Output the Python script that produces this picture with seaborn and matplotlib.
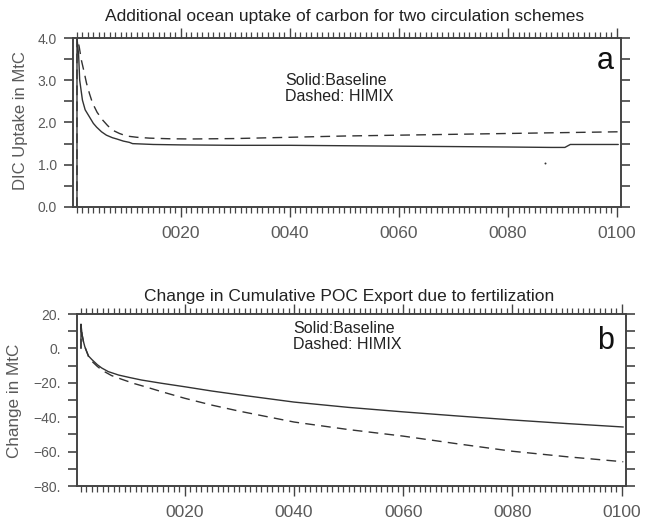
import matplotlib
matplotlib.use("Agg")
import matplotlib.pyplot as plt
import matplotlib.ticker as mticker
import seaborn as sns
import pandas as pd

# ---------------- data ----------------
# Panel a: DIC uptake (MtC)
t_base_a = [1.0, 1.0, 1.3, 1.5, 2.0, 2.5, 3.3, 4.0, 4.6, 5.5, 6.4, 7.5, 8.3, 9.5,
            10.6, 11.2, 15, 20, 30, 40, 50, 60, 70, 80, 88, 90.5, 91.5, 100.3]
v_base_a = [0.0, 4.0, 3.6, 3.0, 2.53, 2.3, 2.13, 1.98, 1.89, 1.78, 1.70, 1.64, 1.61, 1.56,
            1.53, 1.50, 1.48, 1.47, 1.46, 1.46, 1.45, 1.44, 1.43, 1.42, 1.41, 1.41, 1.48, 1.48]
t_himix_a = [1.0, 1.0, 1.4, 1.8, 2.3, 2.75, 3.3, 3.85, 4.7, 5.7, 6.6, 7.5, 8.8, 10.1,
             12, 14.3, 18, 22, 26, 30, 40, 50, 60, 70, 80, 90, 100.3]
v_himix_a = [0.0, 4.0, 3.8, 3.48, 3.2, 2.93, 2.68, 2.46, 2.24, 2.06, 1.93, 1.82, 1.74, 1.68,
             1.65, 1.63, 1.615, 1.61, 1.615, 1.62, 1.65, 1.68, 1.70, 1.72, 1.74, 1.76, 1.78]
dot_t_a = [86.8]
dot_v_a = [1.04]

# Panel b: change in cumulative POC export (MtC)
t_base_b = [1.0, 1.0, 1.2, 1.45, 1.7, 2.0, 2.4, 3.0, 4.0, 4.8, 6.0, 7.9, 10, 12.1,
            15.8, 20, 25, 30, 40, 50, 60, 70, 80, 90, 100.3]
v_base_b = [0, 14, 8, 4, 1, -1.5, -4.5, -6.5, -9.5, -11.4, -13.5, -15.5, -17, -18.4,
            -20.3, -22.3, -24.8, -27, -31.2, -34.3, -36.9, -39.3, -41.6, -43.7, -45.7]
t_himix_b = [1.0, 1.0, 1.2, 1.45, 1.7, 2.0, 2.4, 3.0, 4.0, 5.0, 6.6, 8.5, 10.8, 13,
             15.8, 20, 25, 30, 40, 50, 60, 70, 80, 90, 100.3]
v_himix_b = [0, 14, 8, 4, 1, -1.5, -5, -7.5, -10.5, -13, -15.8, -18, -20.5, -22.5,
             -25.2, -29, -33, -36.5, -42.8, -47.2, -51, -55.5, -59.8, -63, -65.9]

xticks = [20, 40, 60, 80, 100]
xticklabels = ["0020", "0040", "0060", "0080", "0100"]
yticks_a = [0.0, 1.0, 2.0, 3.0, 4.0]
yticklabels_a = ["0.0", "1.0", "2.0", "3.0", "4.0"]
yticks_b = [-80, -60, -40, -20, 0, 20]
yticklabels_b = ["\u221280.", "\u221260.", "\u221240.", "\u221220.", "0.", "20."]

title_a = "Additional ocean uptake of carbon for two circulation schemes"
title_b = "Change in Cumulative POC Export due to fertilization"
ylabel_a = "DIC Uptake in MtC"
ylabel_b = "Change in MtC"
legend_text = "Solid:Baseline\nDashed: HIMIX"

# ---------------- style ----------------
sns.set_style("white")
plt.rcParams["font.family"] = ["Liberation Sans", "DejaVu Sans"]

W, H = 647, 520
fig = plt.figure(figsize=(W / 100, H / 100), dpi=100)

def px_axes(l, t, r, b):
    return fig.add_axes([l / W, 1 - b / H, (r - l) / W, (b - t) / H])

ax_a = px_axes(73, 38, 621, 207)
ax_b = px_axes(77, 314, 626, 486)

LC = "#333333"
SC = "#444444"
TC = "#5a5a5a"

def draw(ax, tb, vb, th, vh):
    dfb = pd.DataFrame({"t": tb, "v": vb})
    dfh = pd.DataFrame({"t": th, "v": vh})
    sns.lineplot(data=dfb, x="t", y="v", ax=ax, color=LC, lw=1.0,
                 estimator=None, sort=False)
    sns.lineplot(data=dfh, x="t", y="v", ax=ax, color=LC, lw=1.0,
                 estimator=None, sort=False, linestyle=(0, (7, 4.5)))

draw(ax_a, t_base_a, v_base_a, t_himix_a, v_himix_a)
sns.scatterplot(x=dot_t_a, y=dot_v_a, ax=ax_a, s=2, color=LC, linewidth=0)
draw(ax_b, t_base_b, v_base_b, t_himix_b, v_himix_b)

def style(ax, ylim, yticks, yticklabels, legend_xy):
    ax.set_xlim(0.27, 100.8)
    ax.set_ylim(*ylim)
    for s in ax.spines.values():
        s.set_visible(True)
        s.set_color(SC)
        s.set_linewidth(1.4)
    ax.set_xticks(xticks)
    ax.set_xticklabels(xticklabels, fontsize=12.5, color=TC)
    ax.xaxis.set_minor_locator(mticker.MultipleLocator(1))
    ax.set_yticks(yticks)
    ax.set_yticklabels(yticklabels, fontsize=10, color=TC)
    step = yticks[1] - yticks[0]
    ax.yaxis.set_minor_locator(mticker.MultipleLocator(step / 2))
    ax.tick_params(axis="x", which="major", direction="out", length=7.5, width=1.0,
                   color=SC, top=True, bottom=True, pad=6)
    ax.tick_params(axis="x", which="minor", direction="out", length=4, width=0.9,
                   color=SC, top=True, bottom=True)
    ax.tick_params(axis="y", which="both", direction="out", length=6.5, width=1.2,
                   color=SC, left=True, right=True, pad=5)
    ax.set_xlabel("")
    ax.set_ylabel("")
    ax.text(legend_xy[0], legend_xy[1], legend_text, transform=ax.transAxes,
            fontsize=11.5, color="#222222", va="top", ha="left", linespacing=1.1)

style(ax_a, (0.0, 4.0), yticks_a, yticklabels_a,
      ((285 - 73) / 548, 1 - (73 - 38) / 169))
style(ax_b, (-80, 20), yticks_b, yticklabels_b,
      ((293 - 77) / 549, 1 - (321 - 314) / 172))

# titles
fig.text(345 / W, 1 - 17 / H, title_a, ha="center", va="center", fontsize=12.5, color="#222222")
fig.text(349 / W, 1 - 296 / H, title_b, ha="center", va="center", fontsize=12.5, color="#222222")
# y labels
fig.text(21 / W, 1 - 121 / H, ylabel_a, rotation=90, ha="center", va="center",
         fontsize=12, color=TC)
fig.text(15 / W, 1 - 401 / H, ylabel_b, rotation=90, ha="center", va="center",
         fontsize=12.3, color=TC)
# panel letters
fig.text(605 / W, 1 - 61 / H, "a", ha="center", va="center", fontsize=22, color="#111111")
fig.text(606 / W, 1 - 341 / H, "b", ha="center", va="center", fontsize=22, color="#111111")

fig.savefig("out.png", dpi=100)
